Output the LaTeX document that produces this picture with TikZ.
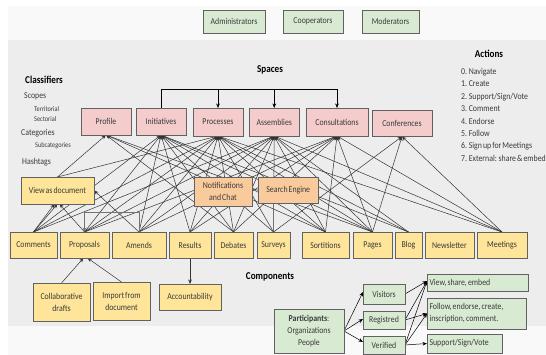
\documentclass[tikz,border=0pt]{standalone}
\usepackage{fontspec}
\setmainfont{Carlito}[FakeStretch=0.87,WordSpace=0.6]
\usetikzlibrary{arrows.meta}
\pgfdeclarelayer{panel}
\pgfdeclarelayer{lines}
\pgfsetlayers{panel,lines,main}
\definecolor{grn}{HTML}{D9EAD3}
\definecolor{pnk}{HTML}{F4CCCC}
\definecolor{yel}{HTML}{FFE599}
\definecolor{org}{HTML}{F9CB9C}
\definecolor{txt}{HTML}{3A3A3A}
\tikzset{
  x=1pt,y=-1pt,
  boxed/.style={draw=black!62,line width=0.8pt,inner sep=0pt,outer sep=0pt,align=center,text=txt,font=\fontsize{9}{12}\selectfont},
  link/.style={draw=black!80,line width=0.5pt,-{Stealth[length=4.5pt,width=3.6pt]}},
  flow/.style={draw=black,line width=0.5pt,-{Stealth[length=4.5pt,width=3.6pt]}},
  label/.style={inner sep=0pt,anchor=west,text=txt,font=\fontsize{9}{10}\selectfont},
  small/.style={inner sep=0pt,anchor=west,text=txt,font=\fontsize{7.2}{8}\selectfont},
  head/.style={inner sep=0pt,text=black,font=\fontsize{10.5}{11}\selectfont\bfseries},
}
\newcommand{\bx}[7]{\node[boxed,fill=#6,minimum width={(#4)-(#2)},minimum height={(#5)-(#3)}] (#1) at ({((#2)+(#4))/2},{((#3)+(#5))/2}) {#7};}
\begin{document}
\begin{tikzpicture}
\useasboundingbox (0,0) rectangle (546,355);
\begin{pgfonlayer}{panel}
\fill[white] (0,0) rectangle (546,355);
\fill[black!2.5] (8,6) rectangle (546,355);
\fill[black!7] (8,40) rectangle (546,326);
\end{pgfonlayer}

\bx{admin}{203}{10}{265}{33}{grn}{Administrators}
\bx{coop}{283}{10}{343}{33}{grn}{Cooperators}
\bx{mod}{362}{10}{419}{33}{grn}{Moderators}

\bx{profile}{81}{108}{131}{135}{pnk}{Profile}
\bx{init}{136}{108}{186}{135}{pnk}{Initiatives}
\bx{proc}{193}{108}{243}{136}{pnk}{Processes}
\bx{asse}{249}{108}{299.5}{136}{pnk}{Assemblies}
\bx{cons}{306}{108}{368}{136}{pnk}{Consultations}
\bx{conf}{372}{110}{432}{136.5}{pnk}{Conferences}

\bx{view}{21}{177}{94}{204}{yel}{View as document}
\bx{notif}{194}{177}{252}{206}{org}{Notifications\\and Chat}
\bx{search}{258.5}{177}{318}{203}{org}{Search Engine}

\bx{comm}{10}{232}{57}{258}{yel}{Comments}
\bx{prop}{60}{232}{109}{258}{yel}{Proposals}
\bx{amen}{112}{232}{166}{258}{yel}{Amends}
\bx{resu}{169}{232}{211}{258}{yel}{Results}
\bx{deba}{214}{232}{253}{258}{yel}{Debates}
\bx{surv}{257}{232}{290}{258}{yel}{Surveys}
\bx{sort}{302}{232}{349}{258}{yel}{Sortitions}
\bx{page}{353}{232}{392}{258}{yel}{Pages}
\bx{blog}{395}{232}{422}{258}{yel}{Blog}
\bx{news}{425}{232}{474}{258}{yel}{Newsletter}
\bx{meet}{477}{232}{527}{258}{yel}{Meetings}

\bx{collab}{33}{283}{90}{321}{yel}{Collaborative\\drafts}
\bx{import}{93}{282}{150}{320}{yel}{Import from\\document}
\bx{acc}{159}{284}{221}{310}{yel}{Accountability}

\bx{part}{274}{309}{344}{353}{grn}{\textbf{Participants}:\\Organizations\\People}
\bx{visi}{363}{284}{405}{304}{grn}{Visitors}
\bx{regi}{363}{311}{405}{329}{grn}{Registred}
\bx{veri}{363}{336}{405}{354}{grn}{Verified}
\node[boxed,fill=grn,minimum width=101,minimum height=17,text width=96,align=flush left] (vse) at (477.5,282.5) {View, share, embed};
\node[boxed,fill=grn,minimum width=99,minimum height=31,text width=94,align=flush left] (fol) at (476.5,313.5) {Follow, endorse, create,\\inscription, comment.};
\node[boxed,fill=grn,minimum width=75.5,minimum height=19,text width=70.5,align=flush left] (sup) at (464.75,343.5) {Support/Sign/Vote};

\node[head] (spaces) at (270,70) {Spaces};
\node[head] (components) at (270,277) {Components};
\node[head] (classifiers) at (44,80) {Classifiers};
\node[head] (actions) at (489,54) {Actions};
\node[label] (l1) at (24,96) {Scopes};
\node[small] (l2) at (34,109) {Territorial};
\node[small] (l3) at (34,119) {Sectorial};
\node[label] (l4) at (21,133) {Categories};
\node[small] (l5) at (35,146) {Subcategories};
\node[label] (l6) at (22,162) {Hashtags};
\node[label] (a0) at (461,72) {0. Navigate};
\node[label] (a1) at (461,84) {1. Create};
\node[label] (a2) at (461,97) {2. Support/Sign/Vote};
\node[label] (a3) at (461,109) {3. Comment};
\node[label] (a4) at (461,121) {4. Endorse};
\node[label] (a5) at (461,133) {5. Follow};
\node[label] (a6) at (461,146) {6. Sign up for Meetings};
\node[label] (a7) at (461,158) {7. External: share \& embed};

\begin{pgfonlayer}{lines}
\foreach \s/\t in {view/profile,deba/profile,sort/profile,page/profile,
  comm/init,prop/init,amen/init,resu/init,deba/init,surv/init,sort/init,page/init,blog/init,
  view/proc,comm/proc,prop/proc,amen/proc,resu/proc,deba/proc,surv/proc,sort/proc,page/proc,blog/proc,meet/proc,
  comm/asse,prop/asse,amen/asse,resu/asse,deba/asse,surv/asse,sort/asse,page/asse,blog/asse,meet/asse,
  prop/cons,amen/cons,resu/cons,deba/cons,sort/cons,page/cons,meet/cons,
  surv/conf,page/conf,meet/conf}
  {\draw[link] (\s.north) -- (\t.south);}
\draw[link] (comm.north) -- ([xshift=-3]view.south);
\draw[link] (comm.north) -- (view.south);
\draw[link] (prop.north) -- ([xshift=2]view.south);
\draw[link] (amen.north) -- (view.east);
\draw[link,draw=black!55] (amen.north) -- ++(0,-20) -| (prop.north);
\draw[flow] (init.north) -- ++(0,-19) -| (proc.north);
\draw[flow] (init.north) -- ++(0,-19) -| (asse.north);
\draw[flow] (init.north) -- ++(0,-19) -| (cons.north);
\draw[link] (collab.north) -- ([xshift=-1]prop.south);
\draw[link] (import.north) -- ([xshift=3]prop.south);
\draw[link] (resu.south) -- (acc.north);
\draw[flow] (part.east) -- ([yshift=2]visi.west);
\draw[flow] (part.east) -- ([yshift=1]regi.west);
\draw[flow] (part.east) -- ([yshift=3]veri.west);
\draw[flow] (visi.east) -- ([yshift=1.5]vse.west);
\draw[flow] (regi.east) -- ([yshift=1.5]vse.west);
\draw[flow] (regi.east) -- (fol.west);
\draw[flow] (veri.east) -- ([yshift=1.5]vse.west);
\draw[flow] (veri.east) -- (fol.west);
\draw[flow] (veri.east) -- (sup.west);
\end{pgfonlayer}
\end{tikzpicture}
\end{document}
